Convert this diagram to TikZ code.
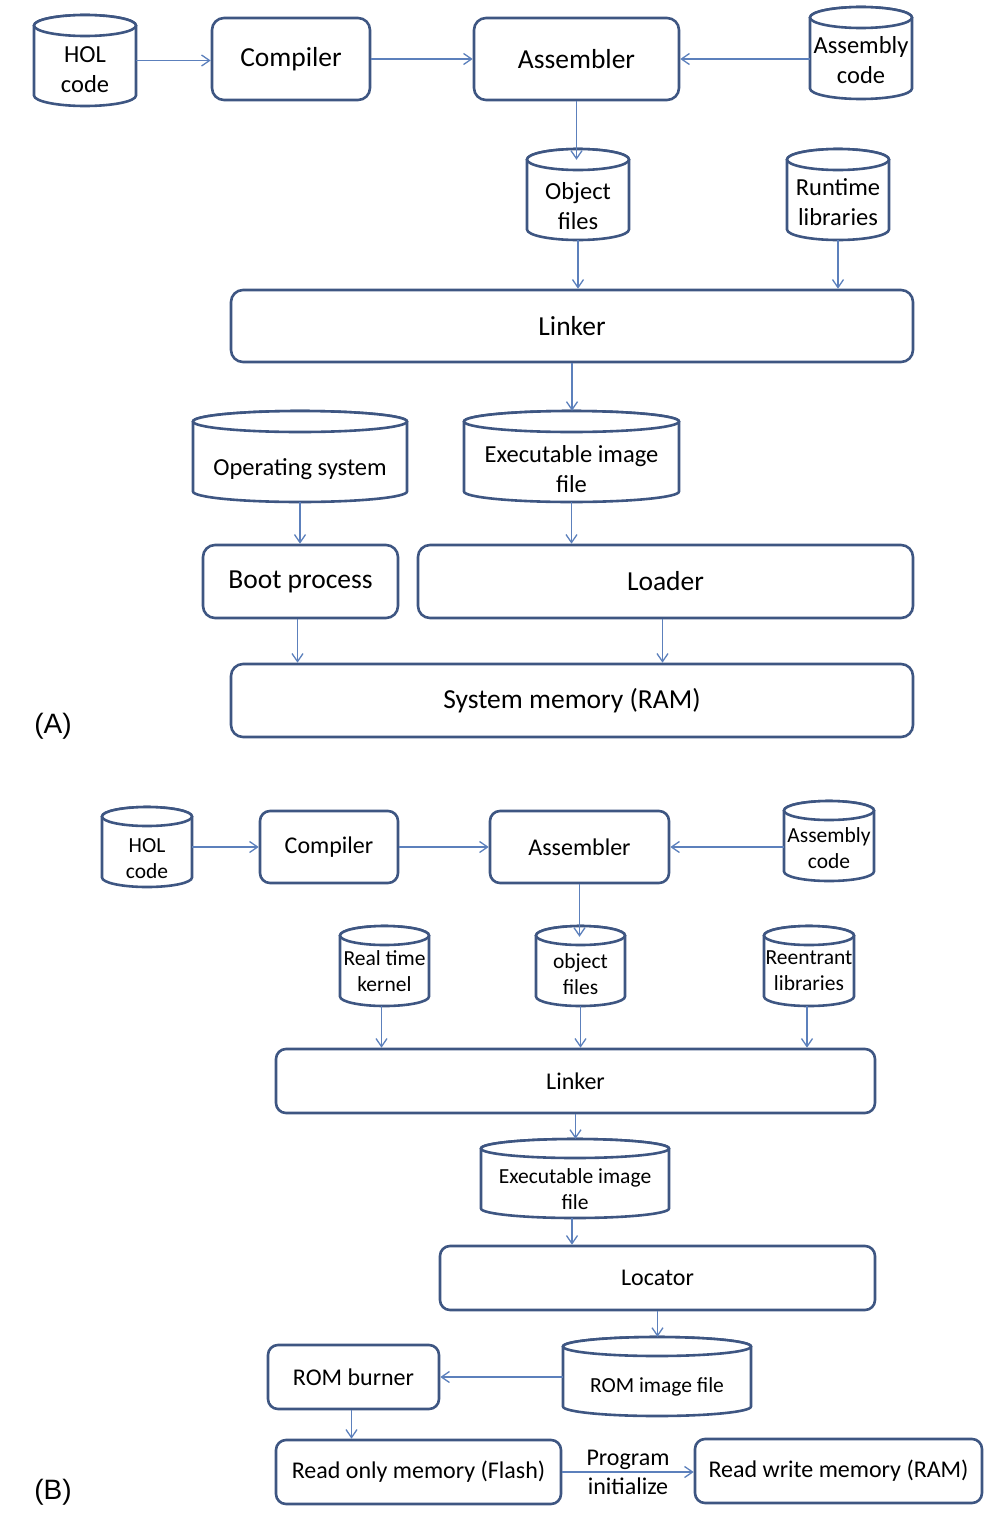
\documentclass[tikz,border=0pt]{standalone}
\usepackage{fontspec}
\setmainfont{Carlito}
\newfontfamily\arialfam{Liberation Sans}
\usetikzlibrary{arrows.meta,calc}
\definecolor{bord}{RGB}{62,86,130}
\definecolor{arr}{RGB}{92,128,188}
\tikzset{
  box/.style={draw=bord, line width=2.6pt, rounded corners=12pt, inner sep=0pt, align=center},
  boxA/.style={box, font=\fontsize{27.5}{33}\selectfont},
  boxB/.style={box, rounded corners=10pt, font=\fontsize{24}{29}\selectfont},
  cylline/.style={draw=bord, line width=2.6pt, fill=white},
  cylbox/.style={draw=none, inner sep=0pt},
  ctA/.style={font=\fontsize{24.5}{30}\selectfont, align=center, inner sep=0pt},
  ctB/.style={font=\fontsize{21.5}{26}\selectfont, align=center, inner sep=0pt},
  flow/.style={draw=arr, line width=1.3pt, -{Straight Barb[length=8pt,width=11pt,line width=1.3pt]}},
  tag/.style={font=\arialfam\fontsize{28}{32}\selectfont, inner sep=0pt}
}
% rounded box: name, x1, y1, x2, y2, style, text
\newcommand\rbox[7]{%
  \node[#6, minimum width={#4-#2}, minimum height={#5-#3}] (#1) at ({(#2+#4)/2},{-(#3+#5)/2}) {#7};}
% cylinder: name, x1, y1, x2, y2, ry, text y, style, text
\newcommand\cyl[9]{%
  \pgfmathsetmacro\cyX{(#2+#4)/2}%
  \pgfmathsetmacro\cyR{(#4-#2)/2}%
  \draw[cylline] (#2,-#3-#6) -- (#2,-#5+#6)
     arc[start angle=180,end angle=360,x radius=\cyR,y radius=#6]
     -- (#4,-#3-#6)
     arc[start angle=0,end angle=180,x radius=\cyR,y radius=#6] -- cycle;
  \draw[cylline] (\cyX,-#3-#6) ellipse[x radius=\cyR, y radius=#6];
  \node[cylbox, minimum width={#4-#2}, minimum height={#5-#3}] (#1) at (\cyX,{-(#3+#5)/2}) {};
  \node[#8] (#1t) at (\cyX,-#7) {#9};}
\begin{document}
\begin{tikzpicture}[x=1pt,y=1pt]
\useasboundingbox (0,0) rectangle (998,-1515);
% ---------------- (A) ----------------
\cyl{holA}{34}{15}{136}{106}{10.5}{70}{ctA}{HOL\\code}
\rbox{compA}{212}{18}{370}{100}{boxA}{Compiler}
\rbox{asmA}{474}{18}{679}{100}{boxA}{Assembler}
\cyl{asmcA}{810}{7}{912}{99}{10.5}{60}{ctA}{Assembly\\code}
\cyl{objA}{527}{149}{629}{240}{10.5}{206}{ctA}{Object\\files}
\cyl{rtA}{787}{149}{889}{240}{10.5}{202}{ctA}{Runtime\\libraries}
\rbox{linkA}{231}{290}{913}{362}{boxA}{Linker}
\cyl{osA}{193}{411}{407}{502}{10.5}{469}{ctA}{Operating system}
\cyl{exA}{464}{411}{679}{502}{10.5}{469}{ctA}{Executable image\\file}
\rbox{bootA}{203}{545}{398}{618}{boxA}{Boot process}
\rbox{loadA}{418}{545}{913}{618}{boxA}{Loader}
\rbox{memA}{231}{664}{913}{737}{boxA}{System memory (RAM)}
\node[tag] (labA) at (53,-726) {(A)};

\draw[flow] (holA.east) -- (holA.east -| compA.west);
\draw[flow] (compA.east) -- (asmA.west);
\draw[flow] (asmA.east -| asmcA.west) -- (asmA.east);
\draw[flow] (asmA.south) -- ([yshift=-11]asmA.south |- objA.north);
\draw[flow] (objA.south) -- (objA.south |- linkA.north);
\draw[flow] (rtA.south) -- (rtA.south |- linkA.north);
\draw[flow] (linkA.south) -- (linkA.south |- exA.north);
\draw[flow] (osA.south) -- (osA.south |- bootA.north);
\draw[flow] (exA.south) -- (exA.south |- loadA.north);
\draw[flow] ([xshift=-3]bootA.south) -- ([xshift=-3]bootA.south |- memA.north);
\draw[flow] ([xshift=-3]loadA.south) -- ([xshift=-3]loadA.south |- memA.north);

% ---------------- (B) ----------------
\cyl{holB}{102}{807}{192}{887}{9.5}{859}{ctB}{HOL\\code}
\rbox{compB}{260}{811}{398}{883}{boxB}{Compiler}
\rbox{asmB}{490}{811}{669}{883}{boxB}{Assembler}
\cyl{asmcB}{784}{801}{874}{881}{9.5}{848}{ctB}{Assembly\\code}
\cyl{rtkB}{340}{926}{429}{1006}{9.5}{971}{ctB}{Real time\\kernel}
\cyl{objB}{536}{926}{625}{1006}{9.5}{974}{ctB}{object\\files}
\cyl{reB}{764}{926}{854}{1006}{9.5}{971}{ctB}{Reentrant\\libraries}
\rbox{linkB}{276}{1049}{875}{1113}{boxB}{Linker}
\cyl{exB}{481}{1139}{669}{1218}{9.5}{1189}{ctB}{Executable image\\file}
\rbox{locB}{440}{1246}{875}{1310}{boxB}{Locator}
\cyl{romB}{563}{1337}{751}{1416}{9.5}{1387}{ctB}{ROM image file}
\rbox{burnB}{268}{1345}{439}{1409}{boxB}{ROM burner}
\rbox{romfB}{276}{1440}{561}{1504}{boxB}{Read only memory (Flash)}
\rbox{ramB}{695}{1439}{982}{1503}{boxB}{Read write memory (RAM)}
\node[tag] (labB) at (53,-1492) {(B)};

\draw[flow] (holB.east) -- (holB.east -| compB.west);
\draw[flow] (compB.east) -- (asmB.west);
\draw[flow] (asmB.east -| asmcB.west) -- (asmB.east);
\draw[flow] (asmB.south) -- ([yshift=-11]asmB.south |- objB.north);
\draw[flow] ([xshift=-3]rtkB.south) -- ([xshift=-3]rtkB.south |- linkB.north);
\draw[flow] (objB.south) -- (objB.south |- linkB.north);
\draw[flow] ([xshift=-2]reB.south) -- ([xshift=-2]reB.south |- linkB.north);
\draw[flow] (linkB.south) -- (linkB.south |- exB.north);
\draw[flow] ([xshift=-3]exB.south) -- ([xshift=-3]exB.south |- locB.north);
\draw[flow] (locB.south) -- (locB.south |- romB.north);
\draw[flow] (burnB.east -| romB.west) -- (burnB.east);
\draw[flow] ([xshift=-2]burnB.south) -- ([xshift=-2]burnB.south |- romfB.north);
\draw[flow] (romfB.east) -- (romfB.east -| ramB.west)
  node[midway, align=center, font=\fontsize{24}{29}\selectfont, inner sep=0pt] (pinit) {Program\\initialize};
\end{tikzpicture}
\end{document}
